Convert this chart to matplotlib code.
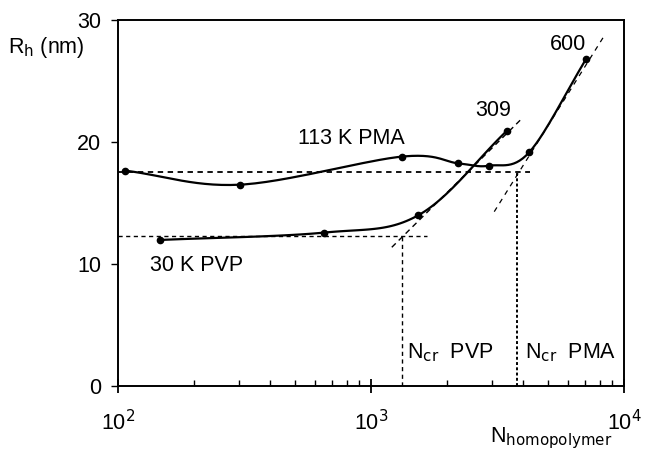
import matplotlib
matplotlib.use("Agg")
import matplotlib.pyplot as plt
import numpy as np

plt.rcParams['font.family'] = ['Liberation Sans', 'DejaVu Sans']

# data
pma_n = [107, 303, 1321, 2213, 2937, 4217, 7080]
pma_rh = [17.65, 16.5, 18.8, 18.25, 18.06, 19.15, 26.8]
pvp_n = [147, 649, 1539, 3436]
pvp_rh = [11.97, 12.57, 14.0, 20.9]

# guide lines
pma_plateau = 17.5
pvp_plateau = 12.3
ncr_pvp = 1321
ncr_pma = 3785
pvp_fit_n = [1208, 3981]
pvp_fit_rh = [11.37, 22.0]
pma_fit_n = [3069, 8279]
pma_fit_rh = [14.29, 28.58]


def smooth(xs, ys, k=30):
    # catmull-rom through the points in log-x, like a spreadsheet smoothed line
    x = np.log10(xs)
    y = np.array(ys, dtype=float)
    px = np.concatenate([[2 * x[0] - x[1]], x, [2 * x[-1] - x[-2]]])
    py = np.concatenate([[2 * y[0] - y[1]], y, [2 * y[-1] - y[-2]]])
    ox, oy = [], []
    t = np.linspace(0, 1, k)
    for i in range(1, len(px) - 2):
        for p, out in ((px, ox), (py, oy)):
            p0, p1, p2, p3 = p[i - 1], p[i], p[i + 1], p[i + 2]
            out.extend(0.5 * ((2 * p1) + (-p0 + p2) * t
                              + (2 * p0 - 5 * p1 + 4 * p2 - p3) * t ** 2
                              + (-p0 + 3 * p1 - 3 * p2 + p3) * t ** 3))
    return 10 ** np.array(ox), np.array(oy)


fig = plt.figure(figsize=(6.46, 4.5), dpi=100)
ax = fig.add_axes([0.1827, 0.1422, 0.7833, 0.8134])
ax.set_xscale('log')
ax.set_xlim(100, 10000)
ax.set_ylim(0, 30)

sx, sy = smooth(pma_n, pma_rh)
ax.plot(sx, sy, color='black', lw=1.6)
ax.plot(pma_n, pma_rh, 'o', color='black', ms=4.5)
sx, sy = smooth(pvp_n, pvp_rh)
ax.plot(sx, sy, color='black', lw=1.6)
ax.plot(pvp_n, pvp_rh, 'o', color='black', ms=4.5)

ax.plot([100, 4250], [pma_plateau, pma_plateau], color='black', lw=1.3, dashes=(3, 2.5))
ax.plot([100, 1660], [pvp_plateau, pvp_plateau], color='black', lw=1.0, dashes=(3, 2.5))
ax.plot([ncr_pvp, ncr_pvp], [0, pvp_plateau], color='black', lw=1.0, dashes=(3, 2.5))
ax.plot([ncr_pma, ncr_pma], [0, pma_plateau], color='black', lw=1.4, dashes=(1.5, 1.2))
ax.plot(pvp_fit_n, pvp_fit_rh, color='black', lw=1.0, dashes=(4, 3))
ax.plot(pma_fit_n, pma_fit_rh, color='black', lw=0.9, dashes=(4, 4))

fs = 15.5
ax.text(514, 20.25, '113 K PMA', fontsize=fs, ha='left', va='center')
ax.text(2576, 22.54, '309', fontsize=fs, ha='left', va='center')
ax.text(5110, 28.0, '600', fontsize=fs, ha='left', va='center')
ax.text(134, 9.86, '30 K PVP', fontsize=fs, ha='left', va='center')
ax.text(1385, 2.7, r'N$_{\rm cr}$  PVP', fontsize=fs, ha='left', va='center')
ax.text(4064, 2.7, r'N$_{\rm cr}$  PMA', fontsize=fs, ha='left', va='center')

ax.set_yticks([0, 10, 20, 30])
ax.set_xticks([100, 1000, 10000])
ax.set_xticklabels([r'10$^2$', r'10$^3$', r'10$^4$'])
ax.tick_params(axis='y', direction='out', length=5, width=1, labelsize=15.5, pad=7)
ax.tick_params(axis='x', which='major', direction='inout', length=10, width=1.3,
               labelsize=15.5, pad=12)
ax.tick_params(axis='x', which='minor', direction='in', length=4, width=1)
for s in ax.spines.values():
    s.set_linewidth(1.4)

fig.text(8 / 646, 1 - 53 / 450, r'R$_{\rm h}$ (nm)', fontsize=fs, ha='left', va='baseline')
fig.text(490 / 646, 1 - 442 / 450, r'N$_{\rm homopolymer}$', fontsize=fs,
         ha='left', va='baseline')

fig.savefig('out.png', dpi=100)
